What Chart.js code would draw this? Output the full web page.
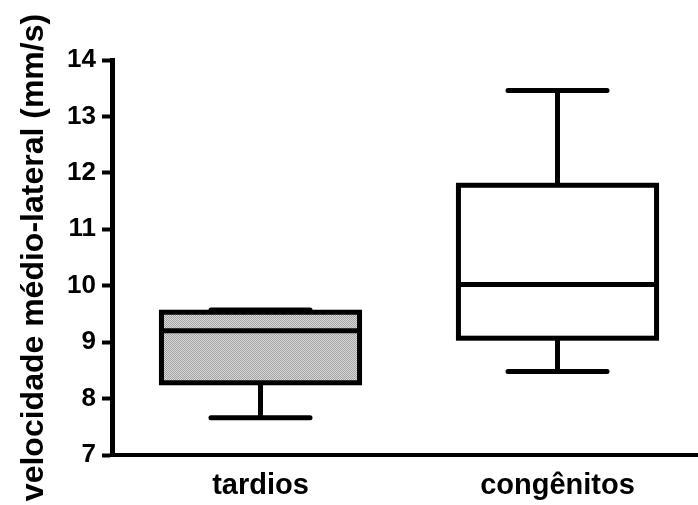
<!DOCTYPE html>
<html>
<head>
<meta charset="utf-8">
<script src="https://cdn.jsdelivr.net/npm/chart.js@4"></script>
<style>
  html, body { margin: 0; padding: 0; background: #ffffff; }
  #wrap { width: 698px; height: 505px; }
</style>
</head>
<body>
<div id="wrap"><canvas id="c" width="698" height="505"></canvas></div>
<script>
// Groups and five-number summaries (mm/s)
const categories = ['tardios', 'congênitos'];
const whiskerLow = [7.66, 8.48];
const quartile1 = [8.28, 9.07];
const medians = [9.20, 10.02];
const quartile3 = [9.53, 11.78];
const whiskerHigh = [9.57, 13.46];
const yTicks = [7, 8, 9, 10, 11, 12, 13, 14];

const FONT = '"Liberation Sans", Arial, Helvetica, sans-serif';
const canvas = document.getElementById('c');
const ctx2d = canvas.getContext('2d');

// fine grey stipple used for the first box
function stipple() {
  const p = document.createElement('canvas');
  p.width = 2; p.height = 2;
  const g = p.getContext('2d');
  g.fillStyle = '#d8d8d8'; g.fillRect(0, 0, 2, 2);
  g.fillStyle = '#a4a4a4'; g.fillRect(0, 0, 1, 1); g.fillRect(1, 1, 1, 1);
  return ctx2d.createPattern(p, 'repeat');
}

// the category axis runs a little past the right edge of the canvas
const widenCategoryAxis = {
  id: 'widenCategoryAxis',
  afterLayout(chart) {
    const x = chart.scales.x;
    x.right = x.left + 594;
    x.width = 594;
    x.configure();
  }
};

// whiskers, caps, box outline and median, positioned through the chart scales
const boxPlot = {
  id: 'boxPlot',
  afterDatasetsDraw(chart) {
    const ctx = chart.ctx;
    const y = chart.scales.y;
    const meta = chart.getDatasetMeta(0);
    ctx.save();
    ctx.strokeStyle = '#000000';
    ctx.lineWidth = 5;
    meta.data.forEach((bar, i) => {
      const half = bar.width / 2;
      const cx = bar.x;
      const yLo = y.getPixelForValue(whiskerLow[i]);
      const yQ1 = y.getPixelForValue(quartile1[i]);
      const yMed = y.getPixelForValue(medians[i]);
      const yQ3 = y.getPixelForValue(quartile3[i]);
      const yHi = y.getPixelForValue(whiskerHigh[i]);

      ctx.lineCap = 'butt';
      ctx.beginPath();
      ctx.moveTo(cx, yQ3); ctx.lineTo(cx, yHi);
      ctx.moveTo(cx, yQ1); ctx.lineTo(cx, yLo);
      ctx.stroke();

      ctx.lineCap = 'round';
      ctx.beginPath();
      ctx.moveTo(cx - half / 2, yHi); ctx.lineTo(cx + half / 2, yHi);
      ctx.moveTo(cx - half / 2, yLo); ctx.lineTo(cx + half / 2, yLo);
      ctx.stroke();

      ctx.lineCap = 'butt';
      ctx.lineJoin = 'miter';
      ctx.strokeRect(cx - half, yQ3, 2 * half, yQ1 - yQ3);
      ctx.beginPath();
      ctx.moveTo(cx - half, yMed); ctx.lineTo(cx + half, yMed);
      ctx.stroke();
    });
    ctx.restore();
  }
};

new Chart(canvas, {
  type: 'bar',
  data: {
    labels: categories,
    datasets: [{
      data: categories.map((_, i) => [quartile1[i], quartile3[i]]),
      backgroundColor: [stipple(), '#ffffff'],
      borderWidth: 0,
      barPercentage: 0.667,
      categoryPercentage: 1
    }]
  },
  options: {
    responsive: false,
    devicePixelRatio: 1,
    animation: false,
    layout: { padding: { left: 0, right: 0, top: 60, bottom: 0 } },
    plugins: { legend: { display: false }, tooltip: { enabled: false } },
    scales: {
      x: {
        grid: { display: false, drawTicks: false },
        border: { display: true, color: '#000000', width: 4 },
        ticks: { color: '#000000', padding: 14, font: { family: FONT, size: 29, weight: 'bold' } },
        afterFit(s) { s.height = 50; }
      },
      y: {
        min: 7,
        max: 14,
        afterBuildTicks(s) { s.ticks = yTicks.map(v => ({ value: v })); },
        grid: { display: true, drawOnChartArea: false, drawTicks: true, tickLength: 10, tickWidth: 4, tickColor: '#000000' },
        border: { display: true, color: '#000000', width: 5 },
        ticks: { color: '#000000', padding: 6, font: { family: FONT, size: 26, weight: 'bold' } },
        title: {
          display: true,
          text: 'velocidade médio-lateral (mm/s)',
          color: '#000000',
          padding: { top: 15, bottom: 0 },
          font: { family: FONT, size: 32, weight: 'bold' }
        },
        afterFit(s) { s.width = 112; }
      }
    }
  },
  plugins: [widenCategoryAxis, boxPlot]
});
</script>
</body>
</html>
